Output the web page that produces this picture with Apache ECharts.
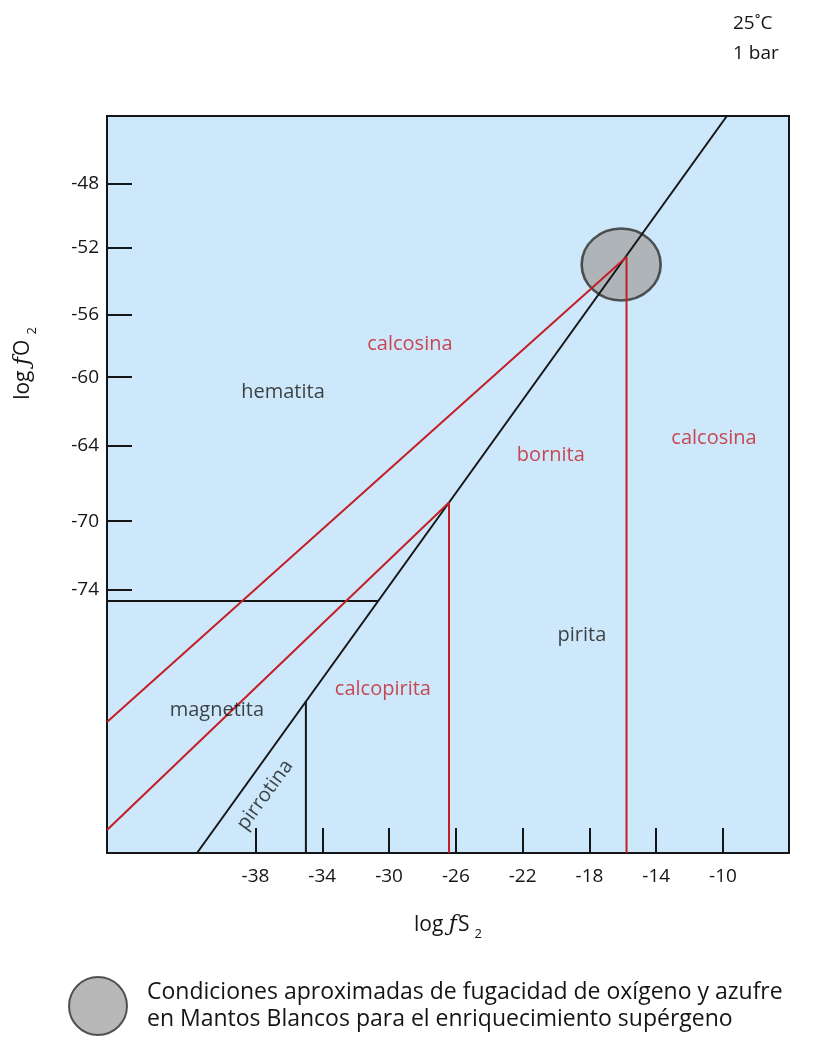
<!DOCTYPE html>
<html>
<head>
<meta charset="utf-8">
<script src="https://cdn.jsdelivr.net/npm/echarts@6/dist/echarts.min.js"></script>
<style>
  html, body { margin: 0; padding: 0; background: #ffffff; }
  #chart { width: 815px; height: 1038px; }
</style>
</head>
<body>
<div id="chart"></div>
<script>
// log fS2 tick marks and labels
const xTickValues = [-38, -34, -30, -26, -22, -18, -14, -10];
const xTickLabels = ['-38', '-34', '-30', '-26', '-22', '-18', '-14', '-10'];
// log fO2 tick marks (as placed on the diagram) and their labels
const yTickValues = [-48, -52.1, -56.4, -60.4, -64.8, -69.6, -74];
const yTickLabels = ['-48', '-52', '-56', '-60', '-64', '-70', '-74'];

// Stability boundaries, [log fS2, log fO2]
const pyriteBoundary = [[-41.50, -90.82], [-9.77, -43.70]];
const hematiteMagnetite = [[-46.89, -74.71], [-30.65, -74.71]];
const pyrrhotitePyrite = [[-34.98, -81.14], [-34.98, -90.82]];
const chalcopyriteUpper = [[-46.89, -89.35], [-26.41, -68.41]];
const chalcopyriteBornite = [[-26.41, -68.41], [-26.41, -90.82]];
const chalcociteLower = [[-46.89, -82.44], [-15.78, -52.71]];
const borniteChalcocite = [[-15.78, -52.71], [-15.78, -90.82]];

// Approximate supergene enrichment conditions (centre)
const mantosBlancos = [[-16.10, -53.19]];

// Mineral field names: [log fS2, log fO2, name]
const copperFields = [
  [-28.75, -58.27, 'calcosina'],
  [-20.31, -65.37, 'bornita'],
  [-10.54, -64.29, 'calcosina'],
  [-30.37, -80.33, 'calcopirita']
];
const ironFields = [
  [-36.35, -61.34, 'hematita'],
  [-18.45, -76.88, 'pirita'],
  [-40.31, -81.68, 'magnetita']
];
const pyrrhotiteField = [[-37.43, -87.11, 'pirrotina']];

const legendText = 'Condiciones aproximadas de fugacidad de oxígeno y azufre\nen Mantos Blancos para el enriquecimiento supérgeno';

const FONT = '"Open Sans", "Noto Sans", sans-serif';
const RED = '#c41e27';
const INK = '#151515';
const ELLIPSE = 'path://M0,50 A50,50 0 1,1 100,50 A50,50 0 1,1 0,50 Z';

function boundary(data, color) {
  return {
    type: 'line', data: data, symbol: 'none', silent: true,
    lineStyle: { color: color, width: 2 }, z: 3
  };
}

function fieldLabels(data, color, rotate) {
  return {
    type: 'scatter', data: data, symbolSize: 0, silent: true, z: 5,
    label: {
      show: true, position: 'inside', rotate: rotate || 0,
      formatter: p => p.value[2],
      color: color, fontFamily: FONT, fontSize: 20
    }
  };
}

// "log f X2" axis title with italic f and subscript 2
function axisTitleRich() {
  return {
    a: { fontSize: 21, color: INK, fontFamily: FONT },
    f: { fontSize: 22, color: INK, fontFamily: '"DejaVu Serif", serif', fontStyle: 'italic' },
    b: { fontSize: 21, color: INK, fontFamily: FONT, padding: [0, 5, 0, 1] },
    s: { fontSize: 13, color: INK, fontFamily: FONT, padding: [18, 0, 0, 0] }
  };
}

const chart = echarts.init(document.getElementById('chart'), null, { renderer: 'canvas' });

chart.setOption({
  animation: false,
  backgroundColor: '#ffffff',
  textStyle: { fontFamily: FONT },
  grid: {
    left: 107, top: 116, right: 26, bottom: 185,
    outerBoundsMode: 'none', containLabel: false,
    show: true, backgroundColor: '#cde8fa', borderColor: INK, borderWidth: 2
  },
  xAxis: {
    type: 'value', min: -46.89, max: -6.05,
    name: '{a|log }{f|ƒ}{b|S}{s|2}',
    nameLocation: 'middle', nameGap: 57,
    nameTextStyle: { rich: axisTitleRich() },
    axisLine: { show: true, lineStyle: { color: INK, width: 2 } },
    axisTick: {
      show: true, inside: true, length: 25, customValues: xTickValues,
      lineStyle: { color: INK, width: 2 }
    },
    axisLabel: {
      customValues: xTickValues, margin: 14,
      formatter: v => xTickLabels[xTickValues.indexOf(v)],
      color: INK, fontSize: 19, fontFamily: FONT
    },
    splitLine: { show: false }
  },
  yAxis: {
    type: 'value', min: -90.82, max: -43.70,
    name: '{a|log }{f|ƒ}{b|O}{s|2}',
    nameLocation: 'middle', nameGap: 68, nameRotate: 90,
    nameTextStyle: { rich: axisTitleRich(), padding: [0, 0, 0, 242] },
    axisLine: { show: true, lineStyle: { color: INK, width: 2 } },
    axisTick: {
      show: true, inside: true, length: 25, customValues: yTickValues,
      lineStyle: { color: INK, width: 2 }
    },
    axisLabel: {
      customValues: yTickValues, margin: 8,
      formatter: v => {
        let best = 0;
        yTickValues.forEach((t, i) => { if (Math.abs(t - v) < Math.abs(yTickValues[best] - v)) best = i; });
        return yTickLabels[best];
      },
      color: INK, fontSize: 19, fontFamily: FONT
    },
    splitLine: { show: false }
  },
  legend: {
    left: 63, top: 971, orient: 'vertical',
    itemWidth: 62, itemHeight: 58,
    data: [{ name: legendText, icon: ELLIPSE }],
    selectedMode: false,
    textStyle: { fontSize: 23, lineHeight: 27, color: INK, fontFamily: FONT, padding: [0, 0, 0, 13] }
  },
  graphic: [{
    type: 'text', left: 733, top: 9,
    style: { text: '25˚C\n1 bar', fontSize: 19, lineHeight: 30, fill: INK, fontFamily: FONT }
  }],
  series: [
    {
      name: legendText,
      type: 'scatter', data: mantosBlancos, symbol: ELLIPSE, symbolSize: [79, 72],
      itemStyle: { color: '#a6a6a6', borderColor: '#2e2e2e', borderWidth: 2.5 },
      z: 2, silent: true
    },
    boundary(pyriteBoundary, INK),
    boundary(hematiteMagnetite, INK),
    boundary(pyrrhotitePyrite, INK),
    boundary(chalcopyriteUpper, RED),
    boundary(chalcopyriteBornite, RED),
    boundary(chalcociteLower, RED),
    boundary(borniteChalcocite, RED),
    fieldLabels(copperFields, RED),
    fieldLabels(ironFields, INK),
    fieldLabels(pyrrhotiteField, INK, 54)
  ]
});
</script>
</body>
</html>
